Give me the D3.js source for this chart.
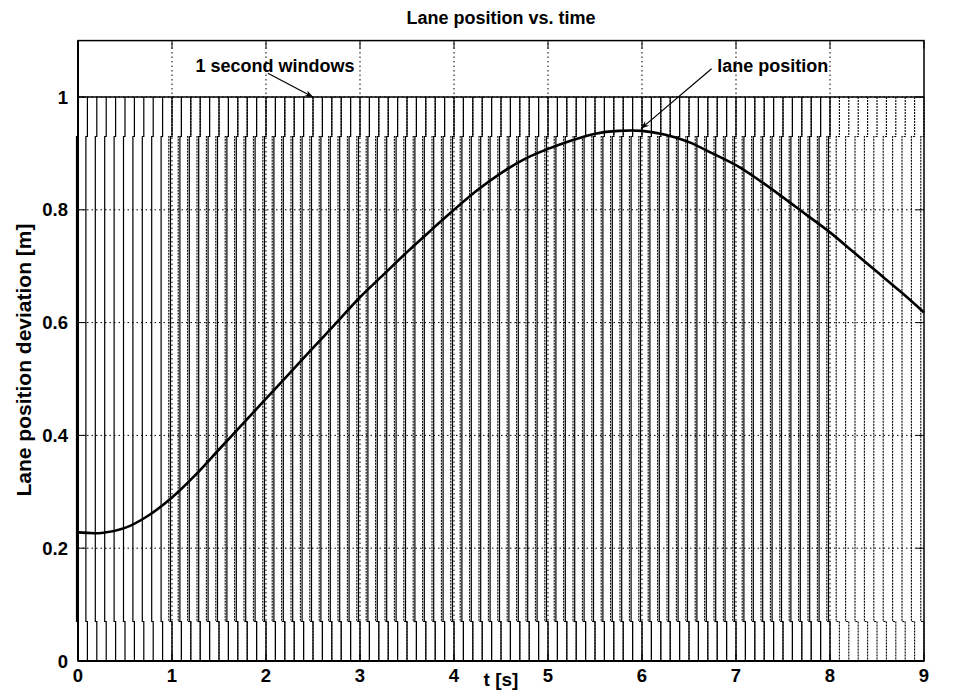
<!DOCTYPE html>
<html><head><meta charset="utf-8">
<script src="https://cdn.jsdelivr.net/npm/d3@7"></script>
<style>
body{margin:0;background:#fff}
text{font-family:"Liberation Sans",Arial,Helvetica,sans-serif;font-weight:bold;fill:#000}
</style>
</head><body>
<svg id="c" width="973" height="691"></svg>
<script>
// ---- data ----
const timeS   = [0,0.25,0.5,0.75,1,1.25,1.5,1.75,2,2.25,2.5,2.75,3,3.25,3.5,3.75,4,4.25,4.5,4.75,5,5.25,5.5,5.75,6,6.25,6.5,6.75,7,7.25,7.5,7.75,8,8.25,8.5,8.75,9];
const lanePos = [0.228,0.227,0.236,0.258,0.29,0.33,0.375,0.42,0.465,0.51,0.555,0.6,0.645,0.685,0.725,0.763,0.80,0.835,0.865,0.89,0.908,0.923,0.935,0.94,0.94,0.933,0.92,0.90,0.879,0.852,0.822,0.791,0.76,0.725,0.69,0.655,0.618];
const windowStarts = [0,0.1,0.2,0.3,0.4,0.5,0.6,0.7,0.8,0.9,1,1.1,1.2,1.3,1.4,1.5,1.6,1.7,1.8,1.9,2,2.1,2.2,2.3,2.4,2.5,2.6,2.7,2.8,2.9,3,3.1,3.2,3.3,3.4,3.5,3.6,3.7,3.8,3.9,4,4.1,4.2,4.3,4.4,4.5,4.6,4.7,4.8,4.9,5,5.1,5.2,5.3,5.4,5.5,5.6,5.7,5.8,5.9,6,6.1,6.2,6.3,6.4,6.5,6.6,6.7,6.8,6.9,7,7.1,7.2,7.3,7.4,7.5,7.6,7.7,7.8,7.9,8];
const windowLength = 1;
const windowHeight = 1;
const neckLow = 0.07, neckHigh = 0.93;
const xTicks = [0,1,2,3,4,5,6,7,8,9];
const xTickLabels = ["0","1","2","3","4","5","6","7","8","9"];
const yTicks = [0,0.2,0.4,0.6,0.8,1];
const yTickLabels = ["0","0.2","0.4","0.6","0.8","1"];
const titleText = "Lane position vs. time";
const xLabelText = "t [s]";
const yLabelText = "Lane position deviation [m]";
const annWindows = {text:"1 second windows", tx:1.25, ty:1.045, from:[2.02,1.042], to:[2.5,1.0]};
const annLane = {text:"lane position", tx:6.8, ty:1.045, from:[6.74,1.05], to:[5.99,0.944]};

// ---- layout ----
const L=78, R=924, Y0=661, Y1=97;
const x = d3.scaleLinear().domain([0,9]).range([L,R]);
const y = d3.scaleLinear().domain([0,1]).range([Y0,Y1]);
const T = y(1.1), B = y(0);
const svg = d3.select("#c");

svg.append("defs").append("marker")
  .attr("id","ah").attr("viewBox","0 0 10 10").attr("refX",10).attr("refY",5)
  .attr("markerWidth",11).attr("markerHeight",8).attr("markerUnits","userSpaceOnUse")
  .attr("orient","auto")
  .append("path").attr("d","M0,1 L10,5 L0,9 L3,5 Z").attr("fill","#000");

const plot = svg.append("g");

// grid
plot.selectAll(".gx").data(xTicks.slice(1,-1)).enter().append("line")
  .attr("x1",d=>x(d)).attr("x2",d=>x(d)).attr("y1",B).attr("y2",T)
  .attr("stroke","#000").attr("stroke-width",1).attr("stroke-dasharray","1.5,3");
plot.selectAll(".gy").data(yTicks.slice(1)).enter().append("line")
  .attr("x1",L).attr("x2",R).attr("y1",d=>y(d)).attr("y2",d=>y(d))
  .attr("stroke","#000").attr("stroke-width",1).attr("stroke-dasharray","1.5,3");

// windows: rising edges (solid)
plot.selectAll(".rise").data(windowStarts).enter().append("path")
  .attr("d",s=>{const px=x(s);return `M${px},${y(0)}V${y(neckLow)}H${px-1.5}V${y(neckHigh)}H${px}V${y(windowHeight)}`;})
  .attr("fill","none").attr("stroke","#000").attr("stroke-width",1.2);
// falling edges (dotted)
plot.selectAll(".fall").data(windowStarts).enter().append("path")
  .attr("d",s=>{const px=x(s+windowLength);return `M${px},${y(windowHeight)}V${y(neckHigh)}H${px-3.2}V${y(neckLow)}H${px}V${y(0)}`;})
  .attr("fill","none").attr("stroke","#000").attr("stroke-width",1.1).attr("stroke-dasharray","2,1");
// window tops
plot.append("line").attr("x1",x(windowStarts[0])).attr("x2",x(windowStarts[windowStarts.length-1]+windowLength))
  .attr("y1",y(windowHeight)).attr("y2",y(windowHeight)).attr("stroke","#000").attr("stroke-width",1.5);

// lane position curve
const pts = timeS.map((t,i)=>[t,lanePos[i]]);
plot.append("path").datum(pts)
  .attr("d",d3.line().x(d=>x(d[0])).y(d=>y(d[1])).curve(d3.curveCatmullRom))
  .attr("fill","none").attr("stroke","#000").attr("stroke-width",2.6);

// axes box
svg.append("rect").attr("x",L).attr("y",T).attr("width",R-L).attr("height",B-T)
  .attr("fill","none").attr("stroke","#000").attr("stroke-width",1.5);
svg.append("line").attr("x1",L).attr("x2",R).attr("y1",B).attr("y2",B).attr("stroke","#000").attr("stroke-width",2);
svg.append("line").attr("x1",L).attr("x2",L).attr("y1",T).attr("y2",B).attr("stroke","#000").attr("stroke-width",2);

// ticks (inward, all sides)
const tk = 8;
xTicks.forEach(t=>{
  svg.append("line").attr("x1",x(t)).attr("x2",x(t)).attr("y1",B).attr("y2",B-tk).attr("stroke","#000");
  svg.append("line").attr("x1",x(t)).attr("x2",x(t)).attr("y1",T).attr("y2",T+tk).attr("stroke","#000");
});
yTicks.forEach(t=>{
  svg.append("line").attr("x1",L).attr("x2",L+tk).attr("y1",y(t)).attr("y2",y(t)).attr("stroke","#000");
  svg.append("line").attr("x1",R).attr("x2",R-tk).attr("y1",y(t)).attr("y2",y(t)).attr("stroke","#000");
});

// tick labels
svg.selectAll(".xl").data(xTicks).enter().append("text")
  .attr("x",d=>x(d)).attr("y",682).attr("text-anchor","middle").attr("font-size",18.5)
  .text((d,i)=>xTickLabels[i]);
svg.selectAll(".yl").data(yTicks).enter().append("text")
  .attr("x",68).attr("y",d=>y(d)).attr("dy","0.36em").attr("text-anchor","end").attr("font-size",18.5)
  .text((d,i)=>yTickLabels[i]);

// titles
svg.append("text").attr("x",(L+R)/2).attr("y",24).attr("text-anchor","middle").attr("font-size",18).text(titleText);
svg.append("text").attr("x",(L+R)/2).attr("y",686).attr("text-anchor","middle").attr("font-size",19).text(xLabelText);
svg.append("text").attr("transform",`translate(31,360) rotate(-90)`).attr("text-anchor","middle").attr("font-size",21).text(yLabelText);

// annotations
[annWindows, annLane].forEach(a=>{
  svg.append("text").attr("x",x(a.tx)).attr("y",y(a.ty)).attr("font-size",18).text(a.text);
  svg.append("line").attr("x1",x(a.from[0])).attr("y1",y(a.from[1]))
    .attr("x2",x(a.to[0])).attr("y2",y(a.to[1]))
    .attr("stroke","#000").attr("stroke-width",1.2).attr("marker-end","url(#ah)");
});
</script>
</body></html>
